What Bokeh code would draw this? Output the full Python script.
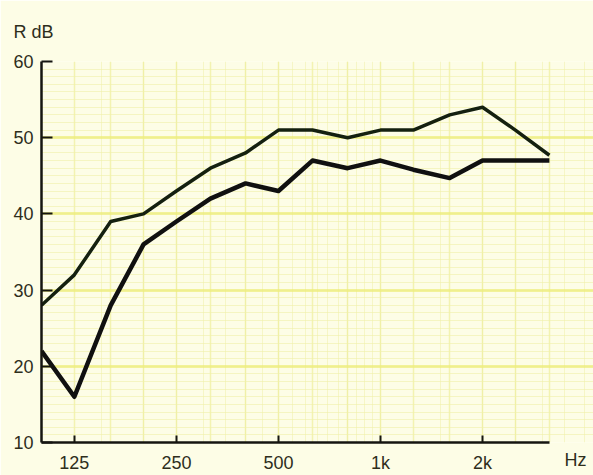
from bokeh.plotting import figure
from bokeh.models import Range1d, FixedTicker, LogAxis
from bokeh.embed import file_html
from bokeh.resources import INLINE

# third-octave band centre frequencies (Hz)
freqs = [100, 125, 160, 200, 250, 315, 400, 500, 630, 800, 1000, 1250, 1600, 2000, 2500, 3150]
upper = [28, 32, 39, 40, 43, 46, 48, 51, 51, 50, 51, 51, 53, 54, 51, 47.7]
lower = [22, 16, 28, 36, 39, 42, 44, 43, 47, 46, 47, 45.8, 44.7, 47, 47, 47]

x_ticks = [125, 250, 500, 1000, 2000]
x_tick_labels = ["125", "250", "500", "1k", "2k"]
y_ticks = [10, 20, 30, 40, 50, 60]
x_unit, x_unit_pos = "Hz", 3760
y_unit = "R dB"

PAPER = "#fdfde6"
INK = "#2e2e1c"
AXIS = "#151510"
FONT = "Liberation Sans"
FS = "18px"

p = figure(width=593, height=475, x_axis_type="log",
           x_range=Range1d(100, 4250), y_range=Range1d(10, 60),
           output_backend="svg", toolbar_location=None,
           min_border_left=41, min_border_right=0,
           min_border_top=61, min_border_bottom=33)
p.background_fill_color = PAPER
p.border_fill_color = PAPER
p.outline_line_color = None

# title used as the y-unit caption
p.title.text = y_unit
p.title.align = "left"
p.title.offset = -28
p.title.standoff = 39
p.title.text_font = FONT
p.title.text_font_size = FS
p.title.text_font_style = "normal"
p.title.text_color = INK

# graph-paper style grid
minor_x = [f * m / 2 for f in (100, 1000) for m in range(2, 20)]
p.xgrid.ticker = FixedTicker(ticks=freqs, minor_ticks=minor_x)
p.xgrid.grid_line_color = "#eeee9a"
p.xgrid.grid_line_alpha = 0.7
p.xgrid.grid_line_width = 1.5
p.xgrid.minor_grid_line_color = "#f2f2b0"
p.xgrid.minor_grid_line_alpha = 0.6
p.ygrid.ticker = FixedTicker(ticks=y_ticks, minor_ticks=list(range(10, 61)))
p.ygrid.grid_line_color = "#ecec78"
p.ygrid.grid_line_alpha = 0.7
p.ygrid.grid_line_width = 3
p.ygrid.minor_grid_line_color = "#f0f0a8"
p.ygrid.minor_grid_line_alpha = 0.6

p.line(freqs, upper, line_color="#14200f", line_width=3.5, line_join="round")
p.line(freqs, lower, line_color="#101010", line_width=4.5, line_join="round")

# x axis: line, ticks and labels limited to the measured band range
xa = p.xaxis[0]
xa.ticker = FixedTicker(ticks=x_ticks)
xa.bounds = (freqs[0], freqs[-1])
xa.major_label_overrides = dict(zip(x_ticks, x_tick_labels))
xa.axis_line_color = AXIS
xa.axis_line_width = 2.5
xa.major_tick_line_color = AXIS
xa.major_tick_line_width = 2
xa.major_tick_in = 7
xa.major_tick_out = 0
xa.minor_tick_line_color = None
xa.major_label_text_font = FONT
xa.major_label_text_font_size = FS
xa.major_label_text_color = INK
xa.major_label_standoff = 10

# unit label on the same row, beyond the axis end
unit_axis = LogAxis(ticker=FixedTicker(ticks=[x_unit_pos]),
                    major_label_overrides={x_unit_pos: x_unit},
                    axis_line_color=None, major_tick_line_color=None,
                    minor_tick_line_color=None,
                    major_label_text_font=FONT, major_label_text_font_size=FS,
                    major_label_text_color=INK, major_label_standoff=-32)
p.add_layout(unit_axis, "below")

ya = p.yaxis[0]
ya.ticker = FixedTicker(ticks=y_ticks)
ya.axis_line_color = AXIS
ya.axis_line_width = 2.5
ya.major_tick_line_color = AXIS
ya.major_tick_line_width = 2
ya.major_tick_in = 11
ya.major_tick_out = 0
ya.minor_tick_line_color = None
ya.major_label_text_font = FONT
ya.major_label_text_font_size = FS
ya.major_label_text_color = INK
ya.major_label_standoff = 8

html = file_html(p, INLINE)
html = html.replace("<body>", '<body style="background:%s">' % PAPER, 1)
open("out.html", "w").write(html)
